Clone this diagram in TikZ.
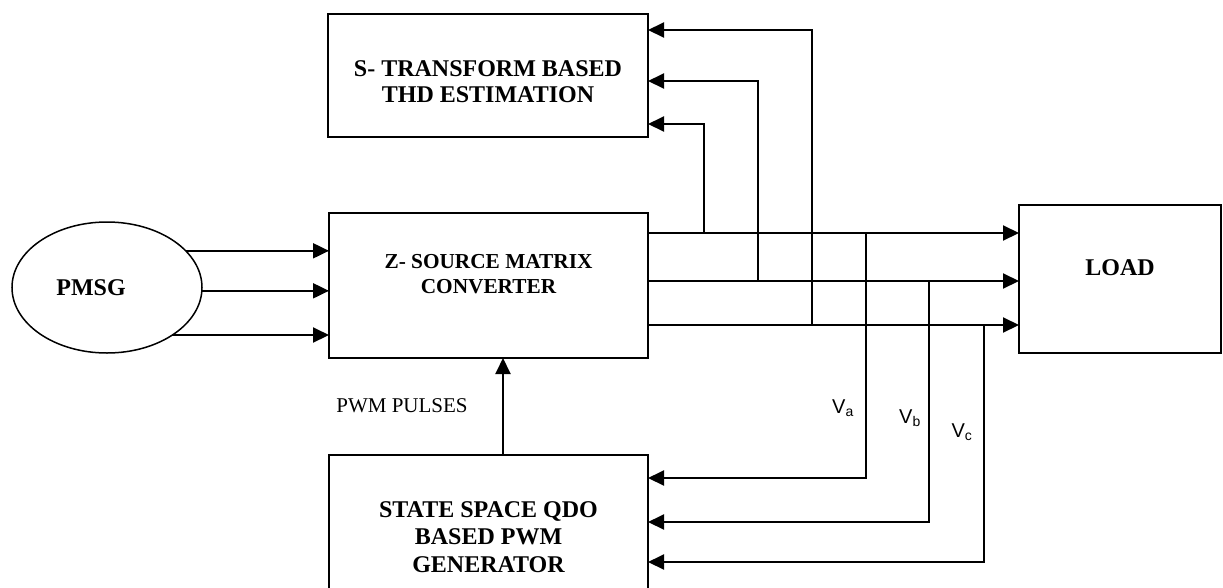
\documentclass[tikz,border=0pt]{standalone}
\usepackage{fontspec}
\setmainfont{Liberation Serif}
\newfontfamily\phasefont{Liberation Sans}
\usetikzlibrary{shapes,arrows.meta,positioning,calc}

\begin{document}
\begin{tikzpicture}[x=1pt,y=-1pt,
    blk/.style={draw, line width=1.8pt, inner sep=0pt, outer sep=0pt},
    conn/.style={line width=2pt},
    arr/.style={conn, -{Triangle[length=16pt,width=15pt]}}]
    \clip (0,0) rectangle (1223,587);

    % Generator
    \node[draw, ellipse, line width=1.5pt, minimum width=190pt, minimum height=131pt,
          inner sep=0pt, outer sep=0pt,
          label={[font=\fontsize{24}{28}\selectfont\bfseries, xshift=-16pt]center:PMSG}]
          (pmsg) at (107,287.5) {};

    % Blocks
    \node[blk, minimum width=320pt, minimum height=123pt,
          label={[align=center, font=\fontsize{24}{26}\selectfont\bfseries, yshift=-6pt]center:S- TRANSFORM BASED\\THD ESTIMATION}]
          (sthd) at (488,75.5) {};
    \node[blk, minimum width=319pt, minimum height=145pt,
          label={[align=center, font=\fontsize{21.3}{25}\selectfont\bfseries, yshift=11pt]center:Z- SOURCE MATRIX\\CONVERTER}]
          (zsm) at (488.5,285.5) {};
    \node[blk, minimum width=202pt, minimum height=148pt,
          label={[font=\fontsize{24}{28}\selectfont\bfseries, yshift=11pt]center:LOAD}]
          (load) at (1120,279) {};
    \node[blk, minimum width=319pt, minimum height=164pt, align=center,
          font=\fontsize{24}{27.5}\selectfont\bfseries]
          (pwm) at (488.5,537) {STATE SPACE QDO\\BASED PWM\\GENERATOR};

    % Generator to converter
    \foreach \a in {25.7,-2.2,-36.7}
        \draw[arr] (pmsg.\a) -- (pmsg.\a -| zsm.west);

    % Converter to load
    \coordinate (ra) at (648,233);
    \coordinate (rb) at (648,281);
    \coordinate (rc) at (648,325);
    \foreach \r in {ra,rb,rc}
        \draw[arr] (\r) -- (\r -| load.west);

    % Feedback to THD estimation
    \coordinate (fa) at (704,233);
    \coordinate (fb) at (758,281);
    \coordinate (fc) at (812,325);
    \foreach \f/\s in {fa/-48.5, fb/-5.5, fc/45.5}
        \draw[arr] (\f) |- ([yshift=\s pt]sthd.east);

    % Feedback to PWM generator
    \coordinate (ga) at (866,233);
    \coordinate (gb) at (929,281);
    \coordinate (gc) at (984,325);
    \foreach \g/\s in {ga/59, gb/15, gc/-25}
        \draw[arr] (\g) |- ([yshift=\s pt]pwm.east);

    % PWM pulses
    \draw[arr] ([xshift=14.5pt]pwm.north) -- ([xshift=14.5pt]zsm.south);
    \node[font=\fontsize{21}{25}\selectfont] (pulses) at (402,406) {PWM PULSES};

    % Phase voltages
    \node[font=\phasefont\fontsize{20}{24}\selectfont] (va) at (843,408) {V\textsubscript{a}};
    \node[font=\phasefont\fontsize{20}{24}\selectfont] (vb) at (910,418) {V\textsubscript{b}};
    \node[font=\phasefont\fontsize{20}{24}\selectfont] (vc) at (962,432) {V\textsubscript{c}};
\end{tikzpicture}
\end{document}
